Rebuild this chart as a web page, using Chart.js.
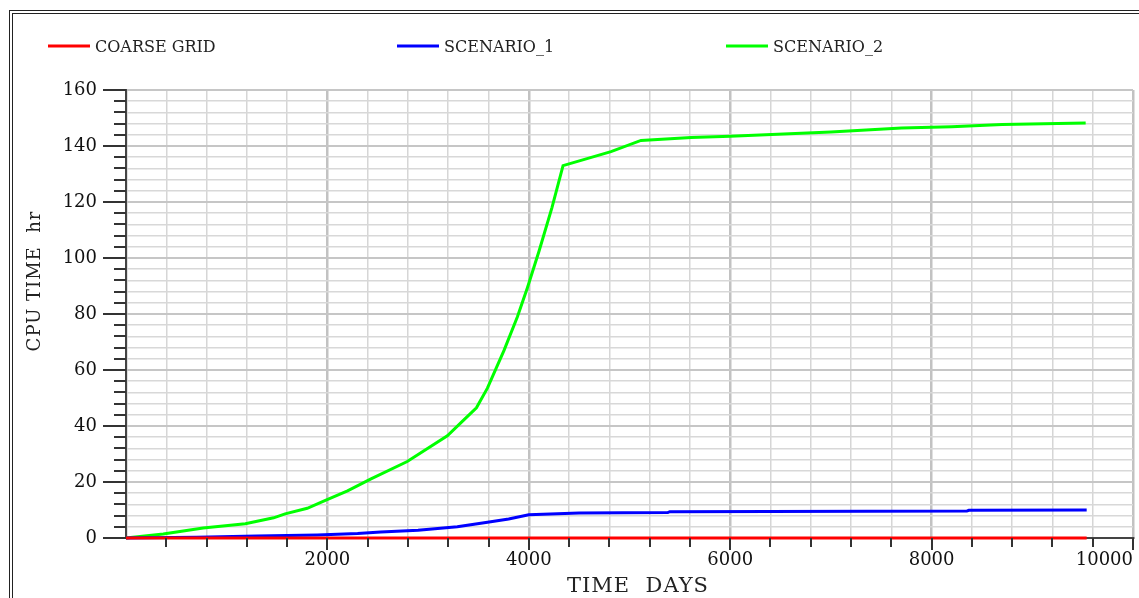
<!DOCTYPE html>
<html>
<head>
<meta charset="utf-8">
<script src="https://cdn.jsdelivr.net/npm/chart.js@4"></script>
<style>
  html, body { margin: 0; padding: 0; background: #fff; overflow: hidden; }
  #wrap { width: 1139px; height: 598px; position: relative; }
</style>
</head>
<body>
<div id="wrap"><canvas id="cpuChart"></canvas></div>
<script>
// series data (time in days, CPU time in hours)
const seriesLabels = ['COARSE GRID', 'SCENARIO_1', 'SCENARIO_2'];
const seriesColors = ['#ff0000', '#0000ff', '#00ff00'];

const coarseDays = [0, 2000, 4000, 6000, 8000, 9540];
const coarseCpu  = [0, 0, 0, 0, 0, 0];

const s1Days = [0, 700, 1300, 1900, 2300, 2530, 2900, 3290, 3590, 3800, 4000, 4500, 5380, 5400, 8350, 8370, 9540];
const s1Cpu  = [0, 0.3, 0.7, 1.1, 1.6, 2.1, 2.8, 4.0, 5.6, 6.8, 8.3, 8.9, 9.1, 9.4, 9.6, 9.9, 10.0];

const s2Days = [0, 370, 766, 1185, 1466, 1580, 1800, 1980, 2200, 2428, 2793, 3191, 3350, 3480, 3589, 3754, 3887, 3987, 4102, 4230, 4340, 4816, 5114, 5612, 6000, 7000, 7700, 8200, 8700, 9530];
const s2Cpu  = [0, 1.4, 3.6, 5.1, 7.2, 8.6, 10.6, 13.4, 16.8, 21.0, 27.3, 36.5, 42, 46.5, 53.5, 67, 79, 89.5, 102.5, 118, 133, 138, 142, 143, 143.5, 145, 146.4, 146.9, 147.7, 148.2];

const yTickStep = 4, yLabelStep = 20, yMax = 160;
const xTickStep = 400, xLabelStep = 2000, xMax = 10000;

const serif = 'DejaVu Serif';

function pts(xs, ys) { return xs.map((x, i) => ({ x: x, y: ys[i] })); }

const frameAndText = {
  id: 'frameAndText',
  beforeDraw(chart) {
    const c = chart.ctx;
    c.save();
    c.fillStyle = '#fff';
    c.fillRect(0, 0, chart.width, chart.height);
    c.strokeStyle = '#222';
    c.lineWidth = 1;
    c.strokeRect(9.5, 10.5, 2000, 2000);
    c.strokeRect(12.5, 13.5, 2000, 2000);
    c.restore();
  },
  afterDraw(chart) {
    const c = chart.ctx;
    const area = chart.chartArea;
    const xs = chart.scales.x, ys = chart.scales.y;
    c.save();
    // outside tick marks
    c.strokeStyle = '#333';
    c.lineWidth = 2;
    ys.ticks.forEach(t => {
      const py = Math.round(ys.getPixelForValue(t.value));
      const len = t.value % yLabelStep === 0 ? 23 : 12;
      c.beginPath(); c.moveTo(area.left - len, py); c.lineTo(area.left, py); c.stroke();
    });
    xs.ticks.forEach(t => {
      if (t.value === 0) return;
      const px = Math.round(xs.getPixelForValue(t.value));
      const len = t.value % xLabelStep === 0 ? 12 : 9;
      c.beginPath(); c.moveTo(px, area.bottom); c.lineTo(px, area.bottom + len); c.stroke();
    });

    // legend
    const legendX = [48, 397, 726];
    c.font = '16px "' + serif + '"';
    c.textBaseline = 'middle';
    c.textAlign = 'left';
    chart.data.datasets.forEach((ds, i) => {
      c.strokeStyle = ds.borderColor;
      c.lineWidth = 3;
      c.beginPath(); c.moveTo(legendX[i], 46); c.lineTo(legendX[i] + 42, 46); c.stroke();
      c.fillStyle = '#222';
      c.fillText(ds.label, legendX[i] + 47, 47.5);
    });

    // axis titles
    c.fillStyle = '#222';
    c.letterSpacing = '1px';
    c.font = '21px "' + serif + '"';
    c.textAlign = 'center';
    c.textBaseline = 'alphabetic';
    c.fillText('TIME  DAYS', 638, 592);
    c.font = '18px "' + serif + '"';
    c.translate(40, 281);
    c.rotate(-Math.PI / 2);
    c.fillText('CPU TIME  hr', 0, 0);
    c.restore();
  }
};

new Chart(document.getElementById('cpuChart'), {
  type: 'line',
  data: {
    datasets: [
      { label: seriesLabels[0], data: pts(coarseDays, coarseCpu), borderColor: seriesColors[0] },
      { label: seriesLabels[1], data: pts(s1Days, s1Cpu), borderColor: seriesColors[1] },
      { label: seriesLabels[2], data: pts(s2Days, s2Cpu), borderColor: seriesColors[2] }
    ].map(d => Object.assign(d, { borderWidth: 3, pointRadius: 0, tension: 0, fill: false, clip: false }))
  },
  options: {
    responsive: true,
    maintainAspectRatio: false,
    animation: false,
    layout: { padding: { left: 0, right: 6, top: 90, bottom: 0 } },
    plugins: { legend: { display: false }, tooltip: { enabled: false } },
    scales: {
      x: {
        type: 'linear', min: 0, max: xMax,
        afterFit(s) { s.height = 60; s.paddingLeft = 0; s.paddingRight = 0; },
        border: { display: true, color: '#444', width: 2 },
        grid: {
          drawTicks: false,
          color: ctx => ctx.tick.value % xLabelStep === 0 ? '#c2c2c2' : '#d6d6d6',
          lineWidth: ctx => ctx.tick.value % xLabelStep === 0 ? 2.5 : 1.5
        },
        ticks: {
          stepSize: xTickStep, autoSkip: false, maxRotation: 0, align: 'inner', padding: 12,
          color: '#111', font: { family: serif, size: 18 },
          callback: v => (v > 0 && v % xLabelStep === 0) ? String(v) : ''
        }
      },
      y: {
        type: 'linear', min: 0, max: yMax,
        afterFit(s) { s.width = 126; },
        border: { display: true, color: '#444', width: 2 },
        grid: {
          drawTicks: false,
          color: ctx => ctx.tick.value % yLabelStep === 0 ? '#c6c6c6' : '#d8d8d8',
          lineWidth: ctx => ctx.tick.value % yLabelStep === 0 ? 2 : 1.5
        },
        ticks: {
          stepSize: yTickStep, autoSkip: false, padding: 29,
          color: '#111', font: { family: serif, size: 18 },
          callback: v => v % yLabelStep === 0 ? String(v) : ''
        }
      }
    }
  },
  plugins: [frameAndText]
});
</script>
</body>
</html>
